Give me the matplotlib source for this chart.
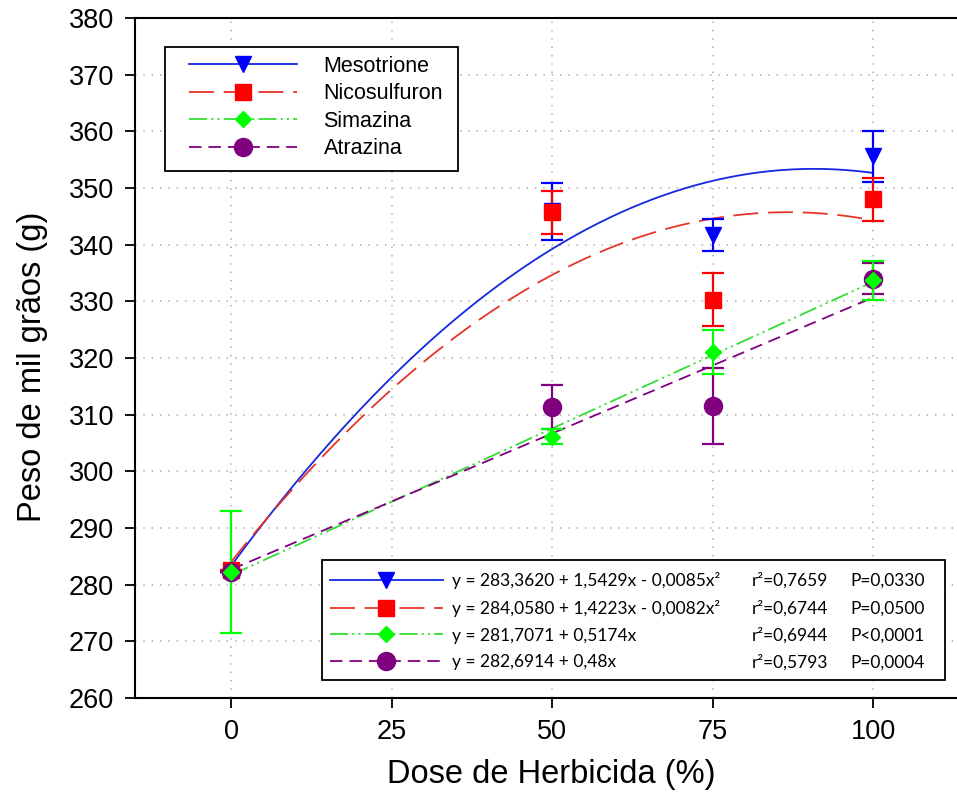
import numpy as np
import matplotlib
matplotlib.use("Agg")
import matplotlib.pyplot as plt
from matplotlib.lines import Line2D
from matplotlib.patches import Rectangle

plt.rcParams['font.family'] = ['Liberation Sans', 'DejaVu Sans']
plt.rcParams['lines.scale_dashes'] = False

# doses (%)
doses = [0, 50, 75, 100]

# mean weight of 1000 grains (g) and error bars
meso_mean = [282.3, 345.9, 341.7, 355.6]
meso_err = [0.0, 5.0, 2.8, 4.5]
nico_mean = [282.5, 345.7, 330.3, 348.0]
nico_err = [0.0, 3.8, 4.7, 3.8]
sima_mean = [282.2, 306.1, 321.0, 333.7]
sima_err = [10.8, 1.3, 3.9, 3.4]
atra_mean = [282.3, 311.4, 311.5, 334.0]
atra_err = [0.0, 3.9, 6.7, 2.7]

# regression coefficients (b0, b1, b2) as printed in the chart
fit_meso = [283.3620, 1.5429, -0.0085]
fit_nico = [284.0580, 1.4223, -0.0082]
fit_sima = [281.7071, 0.5174]
fit_atra = [282.6914, 0.48]

names = ["Mesotrione", "Nicosulfuron", "Simazina", "Atrazina"]
equations = ["y = 283,3620 + 1,5429x - 0,0085x²",
             "y = 284,0580 + 1,4223x - 0,0082x²",
             "y = 281,7071 + 0,5174x",
             "y = 282,6914 + 0,48x"]
r2_labels = ["r²=0,7659", "r²=0,6744", "r²=0,6944", "r²=0,5793"]
p_labels = ["P=0,0330", "P=0,0500", "P<0,0001", "P=0,0004"]

W, H = 957, 802
fig = plt.figure(figsize=(W / 100, H / 100), dpi=100)
ax = fig.add_axes([135 / W, 104 / H, 822 / W, 680 / H])


def fx(px):
    return px / W


def fy(py):
    return 1 - py / H


styles = {
    "Mesotrione": dict(mc="#0000FF", lc="#1428E0", marker="v", ms=12, ls="-"),
    "Nicosulfuron": dict(mc="#FF0000", lc="#E5352B", marker="s", ms=11, ls=(0, (18, 7))),
    "Simazina": dict(mc="#00FF00", lc="#33DD33", marker="D", ms=8.5, ls=(0, (13, 3, 1.5, 3, 1.5, 3))),
    "Atrazina": dict(mc="#800080", lc="#800080", marker="o", ms=13, ls=(0, (9, 5))),
}

xs = np.linspace(0, 100, 300)
fits = {"Mesotrione": fit_meso, "Nicosulfuron": fit_nico,
        "Simazina": fit_sima, "Atrazina": fit_atra}
for n in names:
    st = styles[n]
    ax.plot(xs, np.polyval(fits[n][::-1], xs), color=st["lc"], ls=st["ls"],
            lw=1.3, zorder=2)

data = {"Mesotrione": (meso_mean, meso_err), "Nicosulfuron": (nico_mean, nico_err),
        "Atrazina": (atra_mean, atra_err), "Simazina": (sima_mean, sima_err)}
for n in ["Mesotrione", "Nicosulfuron", "Atrazina", "Simazina"]:
    st = styles[n]
    m, e = data[n]
    ax.errorbar(doses, m, yerr=e, fmt=st["marker"], color=st["mc"], ms=st["ms"],
                mec=st["mc"], ecolor=st["mc"], elinewidth=1.6, capsize=8,
                capthick=1.6, zorder=3)

ax.set_xlim(-15, 113.04)
ax.set_ylim(260, 380)
ax.set_xticks([0, 25, 50, 75, 100])
ax.set_yticks(np.arange(260, 381, 10))
ax.grid(True, color="#BBBBBB", ls=(0, (1, 5)), lw=1.4)
ax.set_axisbelow(True)
ax.spines['right'].set_visible(False)
for s in ['left', 'bottom', 'top']:
    ax.spines[s].set_linewidth(1.5)
ax.tick_params(direction='out', length=7, width=1.3, labelsize=19.5, pad=8,
               top=False, right=False)

ax.set_xlabel("Dose de Herbicida (%)", fontsize=23.5)
ax.set_ylabel("Peso de mil grãos (g)", fontsize=23.5)
ax.xaxis.label.set_va("center")
ax.yaxis.label.set_va("center")
ax.xaxis.set_label_coords(0.506, -0.113)
ax.yaxis.set_label_coords(-0.125, 0.487)

handles = []
for n in names:
    st = styles[n]
    handles.append(Line2D([], [], color=st["lc"], ls=st["ls"], lw=1.3,
                          marker=st["marker"], ms=st["ms"], mfc=st["mc"],
                          mec=st["mc"]))

# legend 1 (names)
ax.add_patch(Rectangle((fx(165), fy(171)), fx(293), 124 / H, transform=fig.transFigure,
                       facecolor="white", edgecolor="black", lw=1.3, zorder=4,
                       clip_on=False))
leg1 = ax.legend(handles, names, loc="upper left", bbox_to_anchor=(fx(189), fy(56)),
                 bbox_transform=fig.transFigure, frameon=False, borderpad=0,
                 borderaxespad=0, fontsize=15.5, handlelength=5.0,
                 handletextpad=1.25, labelspacing=0.3)
leg1.set_zorder(5)
ax.add_artist(leg1)

# legend 2 (equations)
ax.add_patch(Rectangle((fx(322), fy(680)), fx(623), 120 / H, transform=fig.transFigure,
                       facecolor="white", edgecolor="black", lw=1.3, zorder=4,
                       clip_on=False))
leg2 = ax.legend(handles, equations, loc="upper left", bbox_to_anchor=(fx(330), fy(572)),
                 bbox_transform=fig.transFigure, frameon=False, borderpad=0,
                 borderaxespad=0, handlelength=6.5, handletextpad=0.5,
                 labelspacing=0.62, prop={'family': 'Lato', 'size': 12.5})
leg2.set_zorder(5)

fig.canvas.draw()
for t, r2, p in zip(leg2.get_texts(), r2_labels, p_labels):
    bb = t.get_window_extent()
    yc = (bb.y0 + bb.y1) / 2 / H
    ax.text(fx(752), yc, r2, transform=fig.transFigure, va="center", ha="left",
            family="Lato", fontsize=12.5, zorder=6)
    ax.text(fx(850), yc, p, transform=fig.transFigure, va="center", ha="left",
            family="Lato", fontsize=12.5, zorder=6)

fig.savefig("out.png", dpi=100)
